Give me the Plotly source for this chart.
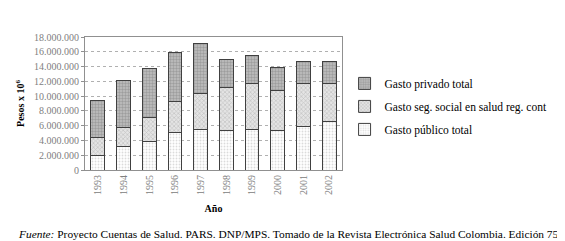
import plotly.graph_objects as go

years = ["1993", "1994", "1995", "1996", "1997", "1998", "1999", "2000", "2001", "2002"]
gasto_publico = [1930000, 3240000, 3820000, 5040000, 5530000, 5400000, 5530000, 5400000, 5940000, 6520000]
gasto_seg_social = [2480000, 2470000, 3290000, 4270000, 4870000, 5800000, 6170000, 5300000, 5760000, 5180000]
gasto_privado = [4940000, 6440000, 6690000, 6660000, 6700000, 3700000, 3800000, 3160000, 3050000, 3050000]
y_ticks = [0, 2000000, 4000000, 6000000, 8000000, 10000000, 12000000, 14000000, 16000000, 18000000]

serif = "Liberation Serif"
fig = go.Figure()
fig.add_bar(x=years, y=gasto_publico, name="Gasto público total", legendgroup="c", legendrank=3,
            marker=dict(color="#f4f4f4", line=dict(color="#404040", width=1),
                        pattern=dict(shape=".", fgcolor="#b8b8b8", bgcolor="#ffffff", size=3, solidity=0.3)))
fig.add_bar(x=years, y=gasto_seg_social, name="Gasto seg. social en salud reg. cont", legendgroup="b", legendrank=2,
            marker=dict(color="#d8d8d8", line=dict(color="#404040", width=1),
                        pattern=dict(shape="x", fgcolor="#a0a0a0", bgcolor="#e4e4e4", size=3, solidity=0.4)))
fig.add_bar(x=years, y=gasto_privado, name="Gasto privado total", legendgroup="a", legendrank=1,
            marker=dict(color="#b0b0b0", line=dict(color="#404040", width=1),
                        pattern=dict(shape=".", fgcolor="#7a7a7a", bgcolor="#c0c0c0", size=3, solidity=0.5)))

fig.update_layout(
    width=557, height=233, barmode="stack", bargap=0.46,
    margin=dict(l=74, r=205, t=29, b=71),
    paper_bgcolor="white", plot_bgcolor="white",
    separators=",.",
    font=dict(family=serif, size=10, color="black"),
    showlegend=True,
    legend=dict(x=1.01, y=0.76, xanchor="left", yanchor="top", traceorder="grouped",
                tracegroupgap=4, font=dict(family=serif, size=11.5, color="black"),
                itemwidth=30, bgcolor="rgba(0,0,0,0)"),
    xaxis=dict(tickangle=-90, tickfont=dict(family=serif, size=10, color="#808080"),
               showline=True, linecolor="#909090", mirror=True, ticks="",
               title=dict(text="<b>Año</b>", font=dict(family=serif, size=10), standoff=10)),
    yaxis=dict(range=[0, 18000000], tickvals=y_ticks, tickformat=",d",
               tickfont=dict(family=serif, size=10, color="#808080"),
               showline=True, linecolor="#909090", mirror=True, ticks="outside", ticklen=3, tickcolor="#909090",
               showgrid=True, gridcolor="#b0b0b0", griddash="dot", gridwidth=1,
               title=dict(text="<b>Pesos x 10<sup>6</sup></b>", font=dict(family=serif, size=10), standoff=7)),
)
fig.add_annotation(xref="paper", yref="paper", x=-0.27, y=-0.42, xanchor="left", yanchor="top",
                   showarrow=False, font=dict(family=serif, size=11.4, color="black"),
                   text="<i>Fuente:</i> Proyecto Cuentas de Salud. PARS. DNP/MPS. Tomado de la Revista Electrónica Salud Colombia. Edición 75")
fig.write_html("out.html")
